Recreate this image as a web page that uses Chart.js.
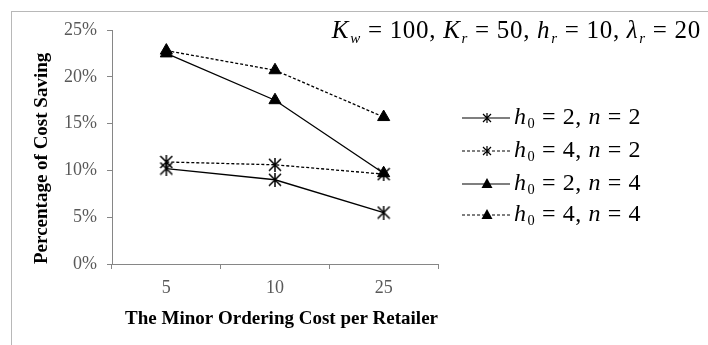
<!DOCTYPE html>
<html>
<head>
<meta charset="utf-8">
<script src="https://cdn.jsdelivr.net/npm/chart.js@4/dist/chart.umd.min.js"></script>
<style>
  html, body { margin: 0; padding: 0; background: #fff; }
  #wrap { position: relative; width: 708px; height: 345px; overflow: hidden; font-family: "Liberation Serif", serif; }
  #frame { position: absolute; left: 11px; top: 11px; width: 720px; height: 360px; border: 1px solid #b8b8b8; box-sizing: border-box; }
  #chart { position: absolute; left: 0; top: 0; }
  .math { position: absolute; white-space: nowrap; color: #000; line-height: 1; }
  .math i { font-style: italic; }
  .math sub { font-size: 0.6em; vertical-align: -0.3em; line-height: 0; margin-left: 1px; }
  #params { right: 7px; top: 17px; font-size: 25px; letter-spacing: 0.7px; }
  .leg { left: 514px; font-size: 24px; letter-spacing: 0.6px; }
</style>
</head>
<body>
<div id="wrap">
  <div id="frame"></div>
  <canvas id="chart" width="708" height="345"></canvas>
  <div id="params" class="math"><i>K</i><sub><i>w</i></sub> = 100, <i>K</i><sub><i>r</i></sub> = 50, <i>h</i><sub><i>r</i></sub> = 10, <i>λ</i><sub><i>r</i></sub> = 20</div>
  <div id="legendText"></div>
</div>
<script>
// ---- data ----
const categories = ['5', '10', '25'];
const h2n2 = [10.2, 9.0, 5.5];
const h4n2 = [10.9, 10.6, 9.6];
const h2n4 = [22.5, 17.5, 9.7];
const h4n4 = [22.8, 20.7, 15.7];
const yTicks = [0, 5, 10, 15, 20, 25];
const legendH0 = [2, 4, 2, 4];
const legendN = [2, 2, 4, 4];

// star marker like Excel's: an X with a vertical bar
function makeStar(size, lw) {
  const c = document.createElement('canvas');
  c.width = size; c.height = size;
  const g = c.getContext('2d');
  g.strokeStyle = '#000'; g.lineWidth = lw;
  const m = 1, e = size - 1, h = size / 2;
  g.beginPath();
  g.moveTo(m, m); g.lineTo(e, e);
  g.moveTo(e, m); g.lineTo(m, e);
  g.moveTo(h, 0); g.lineTo(h, size);
  g.stroke();
  return c;
}
const starBig = makeStar(14, 1.5);
const starSmall = makeStar(10, 1.2);

const legendRows = [118, 151, 184, 215];

const legendPlugin = {
  id: 'sideLegend',
  afterDraw(chart) {
    const ctx = chart.ctx;
    chart.data.datasets.forEach((ds, i) => {
      const y = legendRows[i];
      ctx.save();
      ctx.strokeStyle = '#000';
      ctx.lineWidth = 1.2;
      ctx.setLineDash(ds.borderDash || []);
      ctx.beginPath();
      ctx.moveTo(462, y); ctx.lineTo(510, y);
      ctx.stroke();
      ctx.setLineDash([]);
      if (ds.pointStyle === 'triangle') {
        ctx.fillStyle = '#000';
        ctx.beginPath();
        ctx.moveTo(487, y - 6);
        ctx.lineTo(492.5, y + 4);
        ctx.lineTo(481.5, y + 4);
        ctx.closePath();
        ctx.fill();
      } else {
        ctx.drawImage(starSmall, 487 - 5, y - 5);
      }
      ctx.restore();
    });
  }
};

const lt = document.getElementById('legendText');
lt.innerHTML = legendH0.map((h, i) =>
  `<div class="math leg" style="top:${legendRows[i] - 14}px"><i>h</i><sub>0</sub> = ${h}, <i>n</i> = ${legendN[i]}</div>`
).join('');

const ctx = document.getElementById('chart');
new Chart(ctx, {
  type: 'line',
  data: {
    labels: categories,
    datasets: [
      { label: 'h0 = 2, n = 2', data: h2n2, borderDash: [], pointStyle: starBig },
      { label: 'h0 = 4, n = 2', data: h4n2, borderDash: [3, 2], pointStyle: starBig },
      { label: 'h0 = 2, n = 4', data: h2n4, borderDash: [], pointStyle: 'triangle', pointRadius: 7 },
      { label: 'h0 = 4, n = 4', data: h4n4, borderDash: [3, 2], pointStyle: 'triangle', pointRadius: 7 }
    ].map(d => Object.assign({
      borderColor: '#000', backgroundColor: '#000',
      pointBackgroundColor: '#000', pointBorderColor: '#000',
      borderWidth: 1.3, pointBorderWidth: 1, pointRadius: 6, tension: 0
    }, d))
  },
  options: {
    responsive: false,
    animation: false,
    layout: { padding: { left: 28, top: 30, right: 270, bottom: 11 } },
    plugins: { legend: { display: false }, tooltip: { enabled: false } },
    scales: {
      x: {
        offset: true,
        grid: { drawOnChartArea: false, tickLength: 5, color: '#868686', offset: true },
        border: { color: '#868686' },
        ticks: { color: '#595959', font: { family: 'Liberation Serif', size: 18 }, padding: 8 },
        title: { display: true, align: 'end', text: 'The Minor Ordering Cost per Retailer', color: '#000',
                 font: { family: 'Liberation Serif', size: 19, weight: 'bold' }, padding: { top: 4, bottom: 4 } },
        afterFit: s => { s.height = 70; }
      },
      y: {
        min: 0, max: 25,
        afterBuildTicks: s => { s.ticks = yTicks.map(v => ({ value: v })); },
        grid: { drawOnChartArea: false, tickLength: 5, color: '#868686' },
        border: { color: '#868686' },
        ticks: { color: '#595959', font: { family: 'Liberation Serif', size: 18 }, padding: 10,
                 callback: v => v + '%' },
        title: { display: true, align: 'start', text: 'Percentage of Cost Saving', color: '#000',
                 font: { family: 'Liberation Serif', size: 19, weight: 'bold' }, padding: { top: 3, bottom: 4 } },
        afterFit: s => { s.width = 84; }
      }
    }
  },
  plugins: [legendPlugin]
});
</script>
</body>
</html>
